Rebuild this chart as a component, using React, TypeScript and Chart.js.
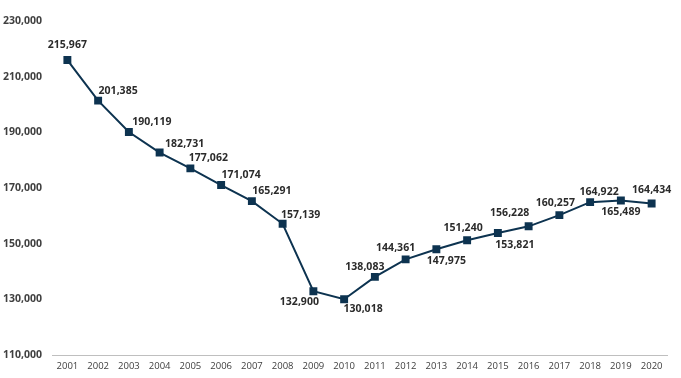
import React, { useEffect, useRef } from "react";
import { Chart, registerables } from "chart.js";

Chart.register(...registerables);

const years = ["2001","2002","2003","2004","2005","2006","2007","2008","2009","2010","2011","2012","2013","2014","2015","2016","2017","2018","2019","2020"];
const values = [215967, 201385, 190119, 182731, 177062, 171074, 165291, 157139, 132900, 130018, 138083, 144361, 147975, 151240, 153821, 156228, 160257, 164922, 165489, 164434];
const yTicks = [110000, 130000, 150000, 170000, 190000, 210000, 230000];

// label offsets relative to each point (style only)
const labelDx = [0, 20, 23, 25, 18, 20, 20, 18, -14, 19, -10, -10, 10, -4, 17, -19, -4, 9, 0, 0];
const labelDy = [-15, -10, -10, -9, -10, -10, -10, -9, 11, 10, -10, -11, 12, -12, 12, -13, -12, -10, 11, -13];

const LINE = "#0d3350";
const FONT = "'Open Sans', 'Liberation Sans', sans-serif";

const fmt = (v: number) => v.toLocaleString("en-US");

const labelPlugin = {
  id: "pointLabels",
  afterDatasetsDraw(chart: any) {
    const ctx = chart.ctx;
    const meta = chart.getDatasetMeta(0);
    ctx.save();
    ctx.font = `bold 10.5px ${FONT}`;
    ctx.fillStyle = "#2b2b2b";
    ctx.textAlign = "center";
    ctx.textBaseline = "middle";
    meta.data.forEach((pt: any, i: number) => {
      ctx.fillText(fmt(values[i]), pt.x + labelDx[i], pt.y + labelDy[i]);
    });
    ctx.restore();
  },
};

export default function App() {
  const ref = useRef<HTMLCanvasElement>(null);
  useEffect(() => {
    if (!ref.current) return;
    const chart = new Chart(ref.current, {
      type: "line",
      data: {
        labels: years,
        datasets: [
          {
            data: values,
            borderColor: LINE,
            backgroundColor: LINE,
            borderWidth: 2,
            pointStyle: "rect",
            pointRadius: 5.6,
            pointBackgroundColor: LINE,
            pointBorderColor: LINE,
            pointBorderWidth: 0,
            tension: 0,
          },
        ],
      },
      options: {
        animation: false,
        responsive: true,
        maintainAspectRatio: false,
        layout: { padding: { top: 21, right: 14, left: 0, bottom: 0 } },
        plugins: { legend: { display: false }, tooltip: { enabled: false } },
        scales: {
          x: {
            offset: true,
            grid: { display: true, color: "rgba(0,0,0,0)", drawTicks: false },
            border: { display: true, color: "#bfbfbf", width: 1 },
            ticks: {
              padding: 6,
              color: "#404040",
              font: { family: FONT, size: 9.5 },
              maxRotation: 0,
              autoSkip: false,
            },
            afterFit: (s: any) => {
              s.height = 23;
            },
          },
          y: {
            min: 110000,
            max: 230000,
            afterBuildTicks: (s: any) => {
              s.ticks = yTicks.map((v) => ({ value: v }));
            },
            grid: { display: false, drawTicks: false },
            border: { display: false },
            ticks: {
              padding: 10,
              color: "#404040",
              font: { family: FONT, size: 10.5, weight: "bold" },
              callback: (v: any) => fmt(Number(v)),
            },
            afterFit: (s: any) => {
              s.width = 52;
            },
          },
        },
      },
      plugins: [labelPlugin],
    });
    return () => chart.destroy();
  }, []);
  return (
    <div style={{ position: "fixed", left: 0, top: 0, width: 681, height: 378, background: "#fff" }}>
      <canvas ref={ref} />
    </div>
  );
}
